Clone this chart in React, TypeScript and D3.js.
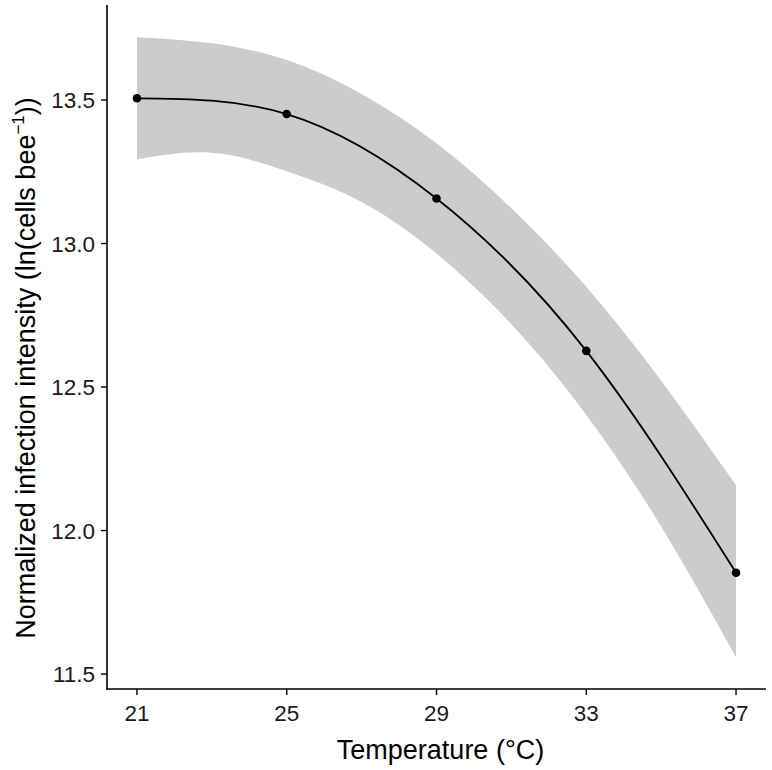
import React from "react";
import * as d3 from "d3";

const temps = [21, 25, 29, 33, 37];
const intensity = [13.506, 13.451, 13.157, 12.626, 11.853];

const bandTemps = [21, 23, 25, 27, 29, 31, 33, 35, 37];
const bandUpper = [13.719, 13.698, 13.639, 13.521, 13.349, 13.123, 12.849, 12.522, 12.158];
const bandLower = [13.293, 13.316, 13.252, 13.145, 12.965, 12.719, 12.403, 12.014, 11.558];

const xTicks = [21, 25, 29, 33, 37];
const yTicks = [11.5, 12.0, 12.5, 13.0, 13.5];

const W = 772;
const H = 770;
const panel = { left: 107, right: 766, top: 5, bottom: 689 };

export default function App() {
  const x = d3.scaleLinear().domain([20.2, 37.8]).range([panel.left, panel.right]);
  const y = d3.scaleLinear().domain([11.448, 13.831]).range([panel.bottom, panel.top]);

  const band = bandTemps.map((t, i) => ({ t, lo: bandLower[i], hi: bandUpper[i] }));
  const pts = temps.map((t, i) => ({ t, v: intensity[i] }));

  const area = d3
    .area<{ t: number; lo: number; hi: number }>()
    .x((d) => x(d.t))
    .y0((d) => y(d.lo))
    .y1((d) => y(d.hi))
    .curve(d3.curveNatural);

  const line = d3
    .line<{ t: number; v: number }>()
    .x((d) => x(d.t))
    .y((d) => y(d.v))
    .curve(d3.curveNatural);

  const font = "'Liberation Sans', Arial, Helvetica, sans-serif";
  const midX = (panel.left + panel.right) / 2;

  return (
    <svg
      width={W}
      height={H}
      style={{ position: "absolute", left: 0, top: 0, background: "#fff" }}
      fontFamily={font}
    >
      <rect x={0} y={0} width={W} height={H} fill="#fff" />
      <path d={area(band) || ""} fill="#cccccc" stroke="none" />
      <path d={line(pts) || ""} fill="none" stroke="#000" strokeWidth={1.8} />
      {pts.map((d, i) => (
        <circle key={i} cx={x(d.t)} cy={y(d.v)} r={4.3} fill="#000" />
      ))}

      {/* axes */}
      <line x1={panel.left} x2={panel.left} y1={panel.top} y2={panel.bottom + 0.75} stroke="#000" strokeWidth={1.6} />
      <line x1={panel.left - 0.75} x2={panel.right} y1={panel.bottom} y2={panel.bottom} stroke="#000" strokeWidth={1.6} />

      {yTicks.map((t) => (
        <g key={"y" + t}>
          <line x1={panel.left - 6} x2={panel.left} y1={y(t)} y2={y(t)} stroke="#000" strokeWidth={1.4} />
          <text x={panel.left - 12} y={y(t)} dy="0.36em" textAnchor="end" fontSize={22.5} fill="#1a1a1a">
            {t.toFixed(1)}
          </text>
        </g>
      ))}
      {xTicks.map((t) => (
        <g key={"x" + t}>
          <line x1={x(t)} x2={x(t)} y1={panel.bottom} y2={panel.bottom + 6} stroke="#000" strokeWidth={1.4} />
          <text x={x(t)} y={panel.bottom + 32} textAnchor="middle" fontSize={22.5} fill="#1a1a1a">
            {t}
          </text>
        </g>
      ))}

      <text x={midX + 4} y={759} textAnchor="middle" fontSize={27} fill="#000">
        Temperature (°C)
      </text>
      <text
        transform={`translate(35, 368) rotate(-90)`}
        textAnchor="middle"
        fontSize={27}
        fill="#000"
      >
        Normalized infection intensity (ln(cells bee
        <tspan dy={-11} fontSize={17}>−1</tspan>
        <tspan dy={11}>))</tspan>
      </text>
    </svg>
  );
}
